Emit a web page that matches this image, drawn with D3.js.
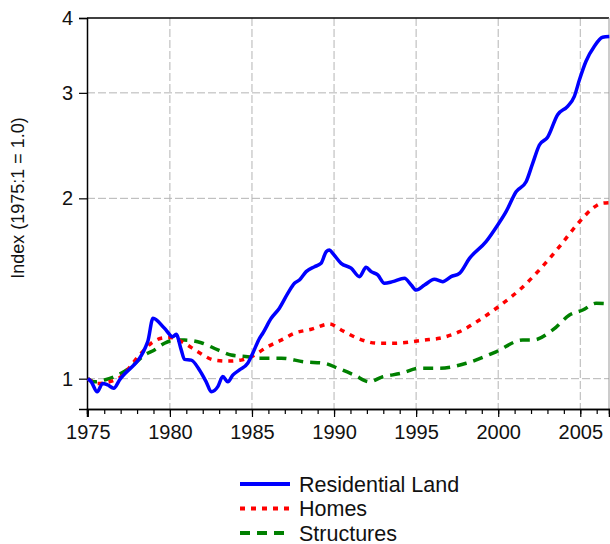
<!DOCTYPE html>
<html>
<head>
<meta charset="utf-8">
<script src="https://cdn.jsdelivr.net/npm/d3@7"></script>
<style>
  body { margin: 0; background: #fff; }
  text { font-family: "Liberation Sans", Arial, sans-serif; }
</style>
</head>
<body>
<div id="chart"></div>
<script>
// series (year, index value)
var landYears = [1975.0, 1975.21, 1975.57, 1975.91, 1976.22, 1976.58, 1976.93, 1978.65, 1978.97, 1979.67,
  1980.18, 1980.38, 1980.69, 1980.89, 1981.30, 1981.80, 1982.21, 1982.52, 1982.92, 1983.22,
  1983.53, 1983.83, 1984.24, 1984.74, 1985.05, 1985.46, 1985.66, 1986.17, 1986.67, 1987.18,
  1987.59, 1987.89, 1988.30, 1988.81, 1989.21, 1989.52, 1989.72, 1989.92, 1990.43, 1991.04,
  1991.55, 1991.95, 1992.26, 1992.66, 1993.07, 1993.57, 1994.29, 1994.70, 1995.0, 1995.51,
  1996.11, 1996.62, 1997.13, 1997.64, 1998.25, 1999.26, 1999.97, 2000.48, 2001.09, 2001.70,
  2002.10, 2002.51, 2003.01, 2003.62, 2004.23, 2004.64, 2004.95, 2005.35, 2005.86, 2006.36, 2006.77];
var landValues = [1.00, 0.988, 0.951, 0.982, 0.976, 0.964, 0.995, 1.153, 1.261, 1.214,
  1.175, 1.186, 1.117, 1.077, 1.074, 1.034, 0.988, 0.951, 0.970, 1.008,
  0.988, 1.014, 1.034, 1.061, 1.103, 1.168, 1.191, 1.261, 1.311, 1.388,
  1.443, 1.461, 1.509, 1.538, 1.558, 1.629, 1.640, 1.619, 1.558, 1.529,
  1.480, 1.534, 1.509, 1.490, 1.443, 1.452, 1.471, 1.433, 1.406, 1.433,
  1.465, 1.452, 1.480, 1.499, 1.588, 1.693, 1.805, 1.900, 2.052, 2.132,
  2.288, 2.455, 2.529, 2.758, 2.849, 2.960, 3.155, 3.387, 3.588, 3.714, 3.726];

var homesYears = [1975.0, 1975.61, 1976.83, 1978.25, 1978.86, 1979.47, 1979.98, 1980.89, 1981.70, 1982.72,
  1983.53, 1984.34, 1984.95, 1985.96, 1986.78, 1987.59, 1988.61, 1989.72, 1990.43, 1991.44,
  1992.66, 1993.68, 1995.51, 1996.42, 1997.64, 1998.86, 1999.97, 2001.29, 2002.51, 2003.73,
  2004.95, 2005.76, 2006.27, 2006.77];
var homesValues = [1.00, 0.982, 1.00, 1.103, 1.146, 1.168, 1.172, 1.146, 1.109, 1.074,
  1.070, 1.074, 1.088, 1.131, 1.160, 1.191, 1.209, 1.234, 1.206, 1.168,
  1.146, 1.146, 1.160, 1.168, 1.198, 1.253, 1.316, 1.406, 1.519, 1.661,
  1.828, 1.925, 1.962, 1.967];

var structYears = [1975.0, 1975.41, 1976.02, 1976.83, 1977.64, 1978.45, 1979.06, 1979.67, 1980.28, 1980.89,
  1981.91, 1982.92, 1983.73, 1984.74, 1985.46, 1986.78, 1988.20, 1989.42, 1990.23, 1991.24,
  1992.16, 1992.87, 1994.09, 1995.20, 1996.42, 1998.05, 1999.87, 2001.49, 2002.10, 2003.32,
  2004.34, 2005.15, 2005.96, 2006.77];
var structValues = [1.00, 0.988, 0.995, 1.014, 1.047, 1.095, 1.117, 1.146, 1.160, 1.160,
  1.148, 1.117, 1.095, 1.088, 1.082, 1.082, 1.067, 1.061, 1.041, 1.014,
  0.988, 1.005, 1.021, 1.041, 1.041, 1.061, 1.109, 1.160, 1.160, 1.206,
  1.277, 1.302, 1.336, 1.333];

var seriesNames = ["Residential Land", "Homes", "Structures"];
var xTicks = [1975, 1980, 1985, 1990, 1995, 2000, 2005];
var yTicks = [1, 2, 3, 4];

var width = 610, height = 544;
var plot = { left: 87, right: 609, top: 18, bottom: 409 };

var svg = d3.select("#chart").append("svg")
  .attr("width", width)
  .attr("height", height);

var x = d3.scaleLinear().domain([1974.95, 2006.75]).range([plot.left, plot.right]);
var y = d3.scaleLog().domain([0.89, 4]).range([plot.bottom, plot.top]);

// grid
svg.append("g").selectAll("line.vg")
  .data(xTicks.slice(1))
  .enter().append("line")
    .attr("x1", function(d) { return x(d); })
    .attr("x2", function(d) { return x(d); })
    .attr("y1", plot.top).attr("y2", plot.bottom)
    .attr("stroke", "#b4b4b4").attr("stroke-dasharray", "8,3");
svg.append("g").selectAll("line.hg")
  .data(yTicks.slice(0, 3))
  .enter().append("line")
    .attr("y1", function(d) { return y(d); })
    .attr("y2", function(d) { return y(d); })
    .attr("x1", plot.left).attr("x2", plot.right)
    .attr("stroke", "#b4b4b4").attr("stroke-dasharray", "8,3");

// frame
svg.append("line").attr("x1", plot.left).attr("x2", plot.right).attr("y1", plot.top).attr("y2", plot.top)
  .attr("stroke", "#000").attr("stroke-width", 1.5);
svg.append("line").attr("x1", plot.right).attr("x2", plot.right).attr("y1", plot.top).attr("y2", plot.bottom)
  .attr("stroke", "#999").attr("stroke-width", 1);

// x axis with yearly minor ticks
var xAxisG = svg.append("g").attr("transform", "translate(0," + plot.bottom + ")");
xAxisG.call(d3.axisBottom(x).tickValues(d3.range(1975, 2007)).tickSize(5).tickFormat(""));
var xMajor = svg.append("g").attr("transform", "translate(0," + plot.bottom + ")")
  .call(d3.axisBottom(x).tickValues(xTicks).tickSize(8).tickPadding(8).tickFormat(d3.format("d")));
[xAxisG, xMajor].forEach(function(g) {
  g.select(".domain").attr("stroke-width", 1.5);
  g.selectAll(".tick line").attr("stroke-width", 1.2);
});
xMajor.selectAll("text").style("font-size", "20px").attr("fill", "#111");

// y axis
var yAxisG = svg.append("g").attr("transform", "translate(" + plot.left + ",0)")
  .call(d3.axisLeft(y).tickValues(yTicks).tickSize(8).tickPadding(6).tickFormat(d3.format("d")));
yAxisG.select(".domain").attr("stroke-width", 1.5);
yAxisG.selectAll(".tick line").attr("stroke-width", 1.2);
yAxisG.selectAll("text").style("font-size", "20px").attr("fill", "#111");

svg.append("text")
  .attr("transform", "translate(24,198) rotate(-90)")
  .attr("text-anchor", "middle")
  .style("font-size", "18px")
  .attr("fill", "#111")
  .text("Index (1975:1 = 1.0)");

// lines
svg.append("clipPath").attr("id", "clip").append("rect")
  .attr("x", plot.left).attr("y", plot.top)
  .attr("width", plot.right - plot.left + 2).attr("height", plot.bottom - plot.top);

var styles = [
  { color: "#0000ff", dash: null },
  { color: "#ff0000", dash: "5,6" },
  { color: "#008000", dash: "10,7" }
];
var seriesData = [
  d3.zip(landYears, landValues),
  d3.zip(homesYears, homesValues),
  d3.zip(structYears, structValues)
];

var line = d3.line()
  .x(function(d) { return x(d[0]); })
  .y(function(d) { return y(d[1]); })
  .curve(d3.curveMonotoneX);

var linesG = svg.append("g").attr("clip-path", "url(#clip)");
[2, 1, 0].forEach(function(i) {
  linesG.append("path")
    .attr("d", line(seriesData[i]))
    .attr("fill", "none")
    .attr("stroke", styles[i].color)
    .attr("stroke-width", 3.5)
    .attr("stroke-dasharray", styles[i].dash);
});

// legend
var legend = svg.append("g").selectAll("g")
  .data(seriesNames)
  .enter().append("g")
    .attr("transform", function(d, i) { return "translate(240," + (484 + i * 24.5) + ")"; });
legend.append("line")
  .attr("x1", 0).attr("x2", 50)
  .attr("stroke", function(d, i) { return styles[i].color; })
  .attr("stroke-width", 4)
  .attr("stroke-dasharray", function(d, i) { return styles[i].dash; });
legend.append("text")
  .attr("x", 59).attr("y", 7.5)
  .style("font-size", "21.5px")
  .attr("fill", "#111")
  .text(function(d) { return d; });
</script>
</body>
</html>
